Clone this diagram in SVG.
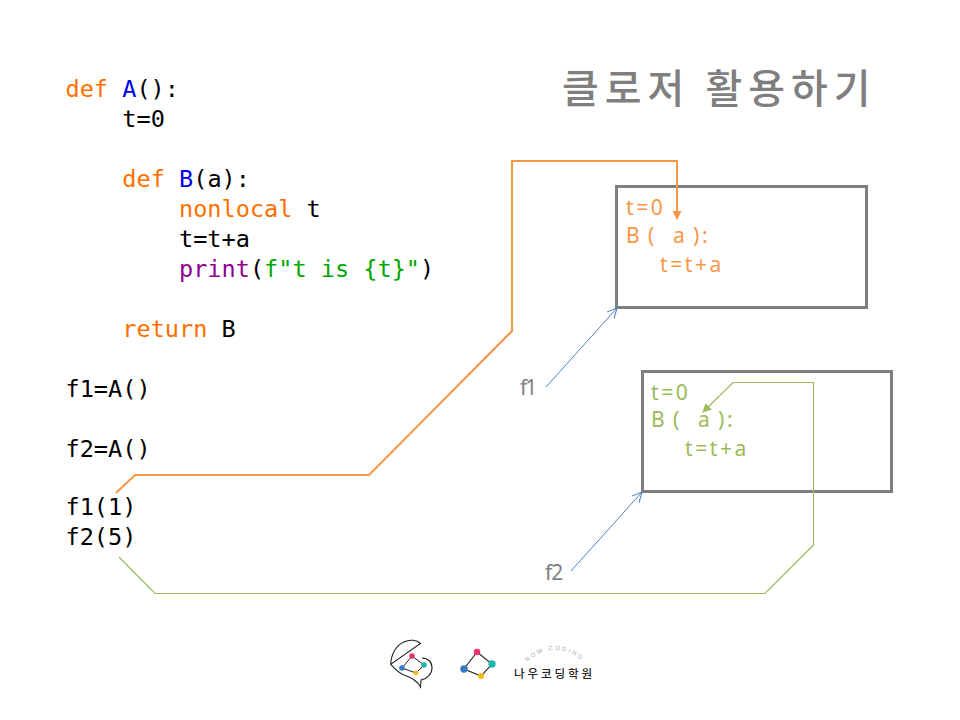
<svg xmlns="http://www.w3.org/2000/svg" width="960" height="720" viewBox="0 0 960 720">
<style>
.code{font-family:"DejaVu Sans Mono","Liberation Mono",monospace;font-size:23.55px;fill:#000}
.k{fill:#ff6f00}.b{fill:#0000f0}.p{fill:#900090}.g{fill:#00a800}
.box{fill:none;stroke:#7f7f7f;stroke-width:3}
.in{font-family:"Noto Sans","Liberation Sans",sans-serif;font-size:21px;letter-spacing:2.6px}
.o{fill:#f79646}.v{fill:#9bbb59}
.lab{font-family:"Noto Sans","Liberation Sans",sans-serif;font-size:21px;fill:#7f7f7f}
.cn{fill:none;stroke-linejoin:miter}
.blue{stroke:#4f81bd;stroke-width:1}
</style>
<defs>
<marker id="oa" markerUnits="userSpaceOnUse" markerWidth="10" markerHeight="10" refX="8" refY="4.5" orient="auto"><path d="M0 0L9 4.5L0 9z" fill="#f79646"/></marker>
<marker id="ga" markerUnits="userSpaceOnUse" markerWidth="10" markerHeight="10" refX="8" refY="4.5" orient="auto"><path d="M0 0L9 4.5L0 9z" fill="#9bbb59"/></marker>
<marker id="ba" markerUnits="userSpaceOnUse" markerWidth="12" markerHeight="12" refX="10" refY="5" orient="auto"><path d="M0 0L10 5L0 10" fill="none" stroke="#4f81bd"/></marker>
<path id="arc" d="M527 662Q555 638 584 662"/>
</defs>
<g id="code">
<text class="code" x="65.500" y="97"><tspan class="k">def</tspan> <tspan class="b">A</tspan>():</text>
<text class="code" x="122.300" y="127">t=0</text>
<text class="code" x="122.300" y="187"><tspan class="k">def</tspan> <tspan class="b">B</tspan>(a):</text>
<text class="code" x="179" y="217"><tspan class="k">nonlocal</tspan> t</text>
<text class="code" x="179" y="247">t=t+a</text>
<text class="code" x="179" y="277"><tspan class="p">print</tspan>(<tspan class="g">f"t is {t}"</tspan>)</text>
<text class="code" x="122.300" y="337"><tspan class="k">return</tspan> B</text>
<text class="code" x="65.500" y="397">f1=A()</text>
<text class="code" x="65.500" y="457">f2=A()</text>
<text class="code" x="65.500" y="515">f1(1)</text>
<text class="code" x="65.500" y="545">f2(5)</text>
</g>
<text id="title" x="562" y="103" font-family="'Noto Sans CJK KR',sans-serif" font-size="40" font-weight="500" letter-spacing="6" fill="#7f7f7f">클로저 활용하기</text>
<g id="box1">
<rect class="box" x="616.500" y="186.500" width="250" height="121"/>
<text class="in o" x="626" y="215">t=0</text>
<text class="in o" y="243"><tspan x="626">B</tspan><tspan x="648">(</tspan><tspan x="673">a</tspan><tspan x="693">):</tspan></text>
<text class="in o" x="660" y="272">t=t+a</text>
</g>
<g id="box2">
<rect class="box" x="642.500" y="371.500" width="249" height="120"/>
<text class="in v" x="651" y="400">t=0</text>
<text class="in v" y="427"><tspan x="651">B</tspan><tspan x="673">(</tspan><tspan x="698">a</tspan><tspan x="718">):</tspan></text>
<text class="in v" x="685" y="456">t=t+a</text>
</g>
<text id="f1" class="lab" x="520" y="395" letter-spacing="-2">f1</text>
<text id="f2" class="lab" x="545" y="580" letter-spacing="-1">f2</text>
<g id="connectors">
<path class="cn" stroke="#f79646" stroke-width="2" marker-end="url(#oa)" d="M116 493L135 475H369L512 331V161H677V219"/>
<path class="cn" stroke="#9bbb59" stroke-width="1.200" marker-end="url(#ga)" d="M119 557L155 593.500H765L813.500 545V382.500H733L703 412"/>
<path class="cn blue" marker-end="url(#ba)" d="M546 387L617 308"/>
<path class="cn blue" marker-end="url(#ba)" d="M571 571L642 492"/>
</g>
<g id="logo">
<path d="M390.700 664.300C391 655 396 645 404 642C410 639 417 640 420.500 643.500L390.700 664.300C395 669 399 673 404 675C410 677 417 680 420.500 687L421 680C427 679 432 674 432 668C432 662 428 658 422 658" fill="none" stroke="#222" stroke-width="1.100"/>
<path d="M412 656L424 665L416 673L402 668z" fill="none" stroke="#222" stroke-width="1"/>
<circle cx="412" cy="656" r="2.800" fill="#e8336d"/><circle cx="424" cy="665" r="2.800" fill="#1fb5a8"/><circle cx="416" cy="673" r="2.400" fill="#fdb913"/><circle cx="402" cy="668" r="2.800" fill="#3d79c2"/>
<path d="M477 652L492 664L481 676L464 669z" fill="none" stroke="#222" stroke-width="1.100"/>
<circle cx="477" cy="652" r="3.300" fill="#e8336d"/><circle cx="492" cy="664" r="3.700" fill="#1fb5a8"/><circle cx="481" cy="676" r="3" fill="#fdb913"/><circle cx="464" cy="669" r="3.700" fill="#3d79c2"/>
<text font-family="'Liberation Sans',sans-serif" font-size="6" letter-spacing="2.100" fill="#aaa"><textPath href="#arc">NOW CODING</textPath></text>
<text x="514" y="678" font-family="'Noto Sans CJK KR',sans-serif" font-size="11.500" font-weight="500" letter-spacing="2.900" fill="#222">나우코딩학원</text>
</g>
</svg>
